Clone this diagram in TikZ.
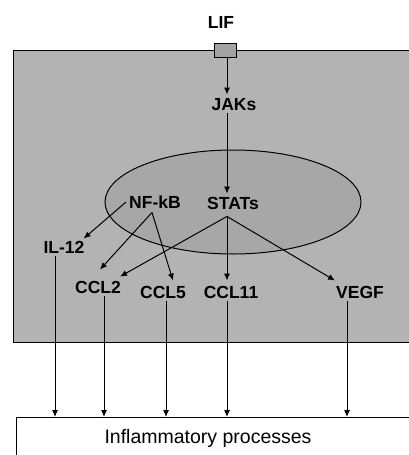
\documentclass[tikz,border=0pt]{standalone}
\usepackage{fontspec}
\setmainfont{Liberation Sans}
\usetikzlibrary{arrows.meta}
\definecolor{cellgrey}{HTML}{B3B3B3}
\definecolor{nucgrey}{HTML}{A7A7A7}
\definecolor{recgrey}{HTML}{A2A2A2}
\tikzset{
  lbl/.style={font=\fontsize{17.5}{17.5}\selectfont\bfseries, inner sep=3pt, text height=12.5pt, text depth=0pt},
  arr/.style={line width=1pt, -{Latex[length=7pt,width=6pt]}},
  wire/.style={line width=1pt},
}
\begin{document}
\begin{tikzpicture}[x=1pt,y=-1pt]
  \useasboundingbox (0,0) rectangle (409,455);
  \clip (0,0) rectangle (409,455);
  \fill[white] (0,0) rectangle (409,455);

  % cell body and nucleus
  \draw[wire, fill=cellgrey] (13,50) rectangle (430,342);
  \draw[wire, fill=nucgrey] (233,202) ellipse [x radius=128, y radius=52];

  % receptor on the membrane
  \node[draw, line width=1pt, fill=recgrey, minimum width=22pt, minimum height=14pt, inner sep=0pt] (rec) at (225,50) {};

  % labels
  \node[lbl] (lif) at (221,22) {LIF};
  \node[lbl] (jaks) at (234,104) {JAKs};
  \node[lbl] (nfkb) at (155,202) {NF-kB};
  \node[lbl] (stats) at (233,203) {STATs};
  \node[lbl] (il12) at (64,247) {IL-12};
  \node[lbl] (ccl2) at (98,287) {CCL2};
  \node[lbl] (ccl5) at (163,292) {CCL5};
  \node[lbl] (ccl11) at (231,292) {CCL11};
  \node[lbl] (vegf) at (360,292) {VEGF};

  % target box
  \node[draw, line width=1pt, fill=white, anchor=north west, minimum width=420pt, minimum height=60pt, inner sep=0pt] (procbox) at (16,417) {};
  \node[font=\fontsize{19.5}{19.5}\selectfont] (proc) at (208,438) {Inflammatory processes};

  % signalling cascade
  \coordinate (axis) at ([xshift=2pt]rec.south);
  \draw[arr] (axis) -- (axis |- jaks.north);
  \draw[arr] (axis |- jaks.south) -- (axis |- stats.north);
  \coordinate (sfork) at ([yshift=-4pt]axis |- stats.south);
  \coordinate (nfork) at ([xshift=-3pt,yshift=-1pt]nfkb.south);

  \draw[arr] (nfkb.west) -- ([xshift=-4pt,yshift=-1pt]il12.north east);
  \draw[arr] (nfork) -- ([xshift=2pt,yshift=8pt]ccl2.north);
  \draw[arr] (nfork) -- ([xshift=10pt,yshift=2pt]ccl5.north);
  \draw[arr] (sfork) -- ([xshift=-4pt,yshift=1pt]ccl2.north east);
  \draw[arr] (sfork) -- ([yshift=2pt]sfork |- ccl11.north);
  \draw[arr] (sfork) -- ([xshift=-25pt,yshift=2pt]vegf.north);

  % secreted factors acting on inflammation
  \draw[arr] ([xshift=-9pt]il12.south) -- ([xshift=-9pt]il12.south |- procbox.north);
  \draw[arr] ([xshift=6pt]ccl2.south) -- ([xshift=6pt]ccl2.south |- procbox.north);
  \draw[arr] ([xshift=3pt]ccl5.south) -- ([xshift=3pt]ccl5.south |- procbox.north);
  \draw[arr] (sfork |- ccl11.south) -- (sfork |- procbox.north);
  \draw[arr] ([xshift=-13pt]vegf.south) -- ([xshift=-13pt]vegf.south |- procbox.north);
\end{tikzpicture}
\end{document}
